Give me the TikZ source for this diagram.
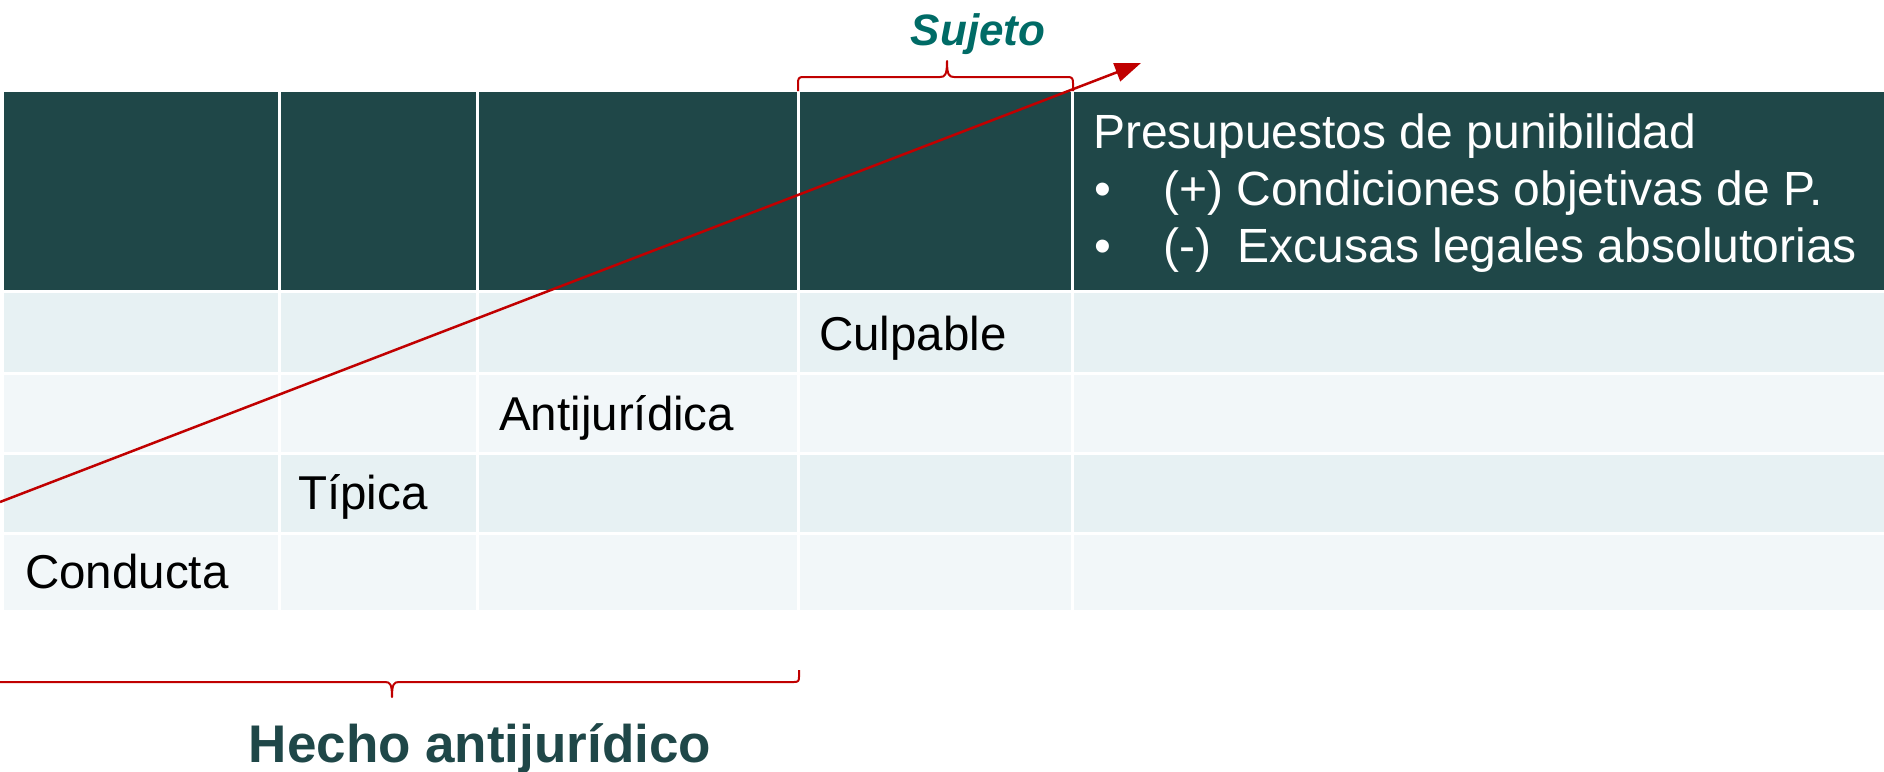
\documentclass[tikz,border=0pt]{standalone}
\usepackage{fontspec}
\setmainfont{Liberation Sans}
\usetikzlibrary{arrows.meta}
\definecolor{headbg}{HTML}{1F4748}
\definecolor{rowA}{HTML}{E7F1F3}
\definecolor{rowB}{HTML}{F2F7F9}
\definecolor{braceRed}{HTML}{C00000}
\definecolor{sujetoCol}{HTML}{006B66}
\begin{document}
\begin{tikzpicture}[x=1pt,y=-1pt,
  celltext/.style={font=\fontsize{47.5}{56}\selectfont, text=black, inner sep=0pt, anchor=base west},
  headtext/.style={font=\fontsize{48}{56}\selectfont, text=white, inner sep=0pt, anchor=base west},
  bracestyle/.style={draw=braceRed, line width=2pt, line join=round},
  arrowstyle/.style={draw=braceRed, line width=2.5pt, -{Triangle[length=26pt,width=19pt]}}]
\useasboundingbox (0,0) rectangle (1884,771);
% table cells
\foreach \ya/\yb/\col in {92/289.5/headbg, 293/371.5/rowA, 374.5/451.5/rowB, 454.5/531.5/rowA, 534.5/610/rowB} {
  \foreach \xa/\xb in {4/278, 281/476, 479/797, 800/1071, 1074/1884} {
    \fill[fill=\col] (\xa,\ya) rectangle (\xb,\yb);
  }
}
% header text
\node[headtext] (pres) at (1093,148) {Presupuestos de punibilidad};
\node[headtext] (b1) at (1094,205) {•};
\node[headtext] (c1) at (1163,205) {(+) Condiciones objetivas de P.};
\node[headtext] (b2) at (1094,262) {•};
\node[headtext] (c2) at (1163,262) {(-)\ \ Excusas legales absolutorias};
% cell text
\node[celltext] (culp) at (819,350) {Culpable};
\node[celltext] (anti) at (499,430) {Antijurídica};
\node[celltext] (tip) at (298,509) {Típica};
\node[celltext] (cond) at (25,588) {Conducta};
% arrow
\coordinate (arrS) at (0,502);
\coordinate (arrE) at (1141,63);
\draw[arrowstyle] (arrS) -- (arrE);
% top brace
\coordinate (tbL) at (798,91);
\coordinate (tbT) at (947,61);
\coordinate (tbR) at (1073,91);
\draw[bracestyle] (tbL) -- (798,83) .. controls (798,78.5) and (799,77) .. (803,77)
  -- (940,77) .. controls (945,77) and (947,75) .. (tbT)
  .. controls (947,75) and (949,77) .. (954,77)
  -- (1068,77) .. controls (1072,77) and (1073,78.5) .. (1073,83) -- (tbR);
\node[font=\fontsize{44}{52}\selectfont\bfseries\itshape, text=sujetoCol, inner sep=0pt, anchor=base] (suj) at (978,45) {Sujeto};
% bottom brace
\coordinate (bbR) at (799,670);
\coordinate (bbT) at (392,697);
\coordinate (bbL) at (-15,670);
\draw[bracestyle] (bbR) -- (799,677) .. controls (799,681) and (798,682) .. (794,682)
  -- (399,682) .. controls (394,682) and (392,684) .. (bbT)
  .. controls (392,684) and (390,682) .. (385,682)
  -- (-10,682) .. controls (-14,682) and (-15,681) .. (-15,677) -- (bbL);
\node[font=\fontsize{53}{62}\selectfont\bfseries, text=headbg, inner sep=0pt, anchor=base] (hecho) at (480,762) {Hecho antijurídico};
\end{tikzpicture}
\end{document}
